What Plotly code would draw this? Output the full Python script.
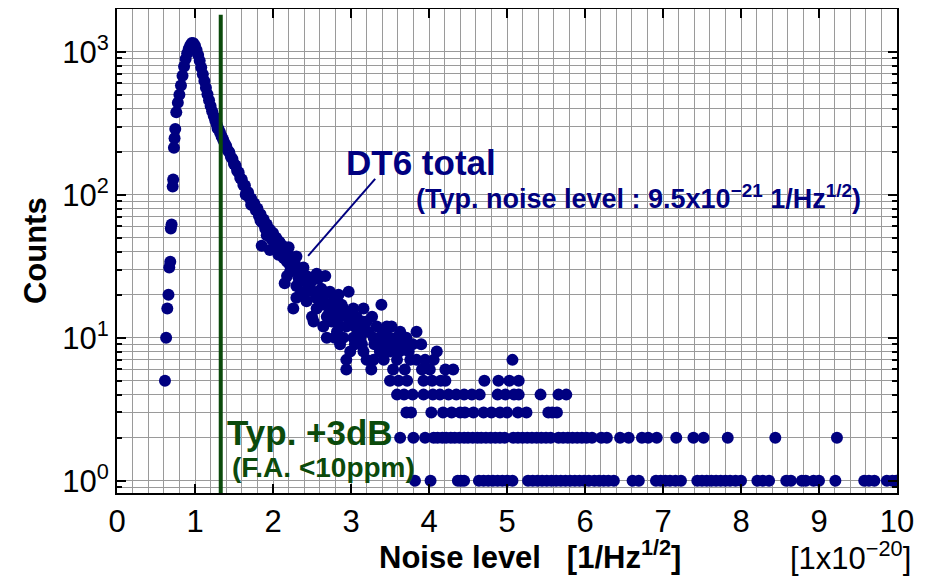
import plotly.graph_objects as go

# --------------------------
# Data (noise level in 1e-20 /sqrt(Hz), counts per bin)
# --------------------------

# isolated dots on the rising edge
rise_x = [0.615, 0.63, 0.645, 0.66, 0.67, 0.683, 0.69, 0.70, 0.714, 0.72, 0.73, 0.738, 0.747, 0.76]
rise_counts = [5, 10, 16, 20, 31, 34, 58, 62, 114, 128, 213, 248, 288, 377]

# dense part of the distribution, bins of 0.02 starting at 0.78
dense_start = 0.78
dense_step = 0.02
dense_counts = [
    440, 500, 580, 680, 790, 890, 975, 1050, 1110, 1150,
    1145, 1100, 1030, 950, 865, 775, 695, 625, 560, 505,
    458, 418, 384, 356, 331, 309, 290, 274, 256, 243,
    229, 219, 205, 198, 184, 178, 164, 160, 147, 143,
    131, 128, 117, 116, 105, 104, 95, 94, 86, 87,
    78, 80, 71, 73, 64, 67, 58, 62, 53, 57,
    49, 54, 45, 50, 42, 47, 39, 44, 36, 41,
    34, 38, 32, 36, 30, 33, 29,
]

# scattered region of the tail (counts >= 6)
mid_x = [
    1.29, 1.855, 1.96, 2.09, 2.20, 2.13, 2.30, 2.39, 2.43, 2.47, 2.56, 2.67, 2.58,
    2.15, 2.30, 2.73, 2.97, 2.84, 2.30, 2.43, 2.60, 2.82, 2.26, 2.56, 2.75,
    2.90, 3.03, 3.16, 3.39, 2.50, 2.69, 2.86, 3.07, 3.27, 2.52, 2.645, 2.82,
    2.94, 3.09, 3.33, 3.46, 3.52, 3.63, 3.84, 2.69, 2.79, 2.90, 3.03, 3.12,
    3.29, 3.37, 3.50, 3.65, 3.71, 3.44, 3.56, 3.79, 3.90, 2.99, 3.14, 3.37,
    3.50, 4.10, 2.94, 3.20, 3.29, 3.42, 3.59, 3.76, 3.84, 3.95, 4.06, 5.07,
    2.94, 3.26, 3.54, 3.69, 3.91, 4.01, 4.21, 4.31,
    2.35, 2.40, 2.50, 2.52, 2.62, 2.36, 2.55, 2.65, 2.70, 2.78, 2.88, 2.95,
    3.00, 3.10, 3.18, 2.75, 2.85, 3.20,
    2.33, 2.45, 2.62, 2.72, 2.80, 2.98, 3.05, 3.14, 3.22, 3.30, 3.41, 3.48,
    3.58, 3.62, 3.68, 3.74, 3.05, 3.16, 2.86, 2.40, 2.22, 2.18,
    1.65, 1.72, 1.84, 1.92, 2.02, 2.07,
]
mid_counts = [
    290, 44, 41, 46, 43, 37, 37, 31, 27, 23, 28, 27, 26,
    24, 23, 21, 21, 20, 19, 18, 18, 18, 16, 16, 16,
    16, 16, 16, 17, 14, 14, 14, 14, 14, 13, 12, 11,
    12, 11, 12, 12, 12, 11, 11, 10, 10, 10, 10, 10,
    10, 10, 10, 10, 10, 9, 9, 9, 9, 8, 9, 8,
    8, 8, 7, 7, 7, 7, 7, 7, 7, 7, 7, 7,
    6, 6, 6, 6, 6, 6, 6, 6,
    28, 25, 25, 21, 22, 21, 19, 20, 17, 19, 17, 15,
    13, 12, 11, 13, 12, 13,
    26, 22, 17, 15, 15, 13, 12, 13, 11, 9, 11, 10,
    10, 8, 9, 8, 9, 8, 9, 20, 29, 27,
    100, 85, 66, 52, 43, 38,
]

# low-count rows of the tail
row5_x = [3.50, 3.61, 3.72, 3.93, 4.04, 4.15, 4.21, 4.71, 4.89, 5.03, 5.15]
row4_x = [3.59, 3.68, 3.79, 3.93, 4.05, 4.14, 4.25, 4.35, 4.45, 4.55, 4.65,
          4.88, 4.98, 5.09, 5.15, 5.43, 5.66, 5.76]
row3_x = [3.71, 3.77, 4.03, 4.18, 4.29, 4.40, 4.46, 4.57, 4.70, 4.80, 4.91,
          5.00, 5.14, 5.25, 5.53, 5.58, 5.64]
row2_x = [3.63, 3.80, 3.95, 4.06, 4.11, 4.17, 4.22, 4.28, 4.33, 4.39, 4.45,
          4.50, 4.56, 4.62, 4.67, 4.73, 4.79, 4.85, 4.91, 4.97, 5.08, 5.14,
          5.20, 5.26, 5.32, 5.38, 5.44, 5.50, 5.56, 5.66, 5.72, 5.78, 5.84,
          5.90, 5.96, 6.02, 6.09, 6.21, 6.28, 6.45, 6.56, 6.73, 6.81, 6.92,
          7.17, 7.39, 7.52, 7.83, 8.44, 9.23]
row1_x = [3.82, 4.02, 4.37, 4.41, 4.45, 4.64, 4.70, 4.76, 4.82, 4.88, 4.94,
          5.00, 5.07, 5.27, 5.33, 5.39, 5.45, 5.51, 5.57, 5.63, 5.69, 5.75,
          5.81, 5.87, 5.93, 5.99, 6.05, 6.12, 6.18, 6.24, 6.30, 6.37, 6.61,
          6.69, 6.91, 6.97, 7.03, 7.09, 7.16, 7.23, 7.44, 7.50, 7.56, 7.62,
          7.68, 7.74, 7.80, 7.86, 7.93, 8.00, 8.21, 8.28, 8.36, 8.58, 8.64,
          8.78, 8.83, 8.93, 9.00, 9.21, 9.58, 9.64, 9.71, 9.87, 9.94, 9.99]

typ_3db_x = 1.33

# --------------------------
# Assemble points
# --------------------------
dense_x = [round(dense_start + i * dense_step, 3) for i in range(len(dense_counts))]

xs = rise_x + dense_x + mid_x
ys = rise_counts + dense_counts + mid_counts
for n, row in [(5, row5_x), (4, row4_x), (3, row3_x), (2, row2_x), (1, row1_x)]:
    xs += row
    ys += [n] * len(row)

NAVY = "#000080"
GREEN = "#0b4a0b"
FONT = "Liberation Sans, Arial, sans-serif"

fig = go.Figure()
fig.add_trace(go.Scatter(
    x=xs, y=ys, mode="markers",
    marker=dict(size=12, color=NAVY, line=dict(width=0)),
    showlegend=False,
))

grid = "#9a9a9a"
minor_y = [0.9] + [k * 10 ** e for e in range(3) for k in range(2, 10)]

fig.update_xaxes(
    range=[0, 10], tick0=0, dtick=1,
    ticks="inside", ticklen=9, tickwidth=2, tickcolor="black",
    showline=True, linewidth=2, linecolor="black", mirror="ticks",
    showgrid=True, gridcolor=grid, gridwidth=1.4,
    minor=dict(dtick=0.2, showgrid=True, gridcolor=grid, gridwidth=1.4, ticks=""),
    tickfont=dict(family=FONT, size=31, color="black"),
    zeroline=False, automargin=False,
)
fig.update_yaxes(
    type="log", range=[-0.086, 3.299],
    tickmode="array", tickvals=[1, 10, 100, 1000],
    ticktext=["10<sup>0</sup>", "10<sup>1</sup>", "10<sup>2</sup>", "10<sup>3</sup>"],
    ticks="inside", ticklen=9, tickwidth=2, tickcolor="black",
    showline=True, linewidth=2, linecolor="black", mirror="ticks",
    showgrid=True, gridcolor=grid, gridwidth=1.4,
    minor=dict(tickmode="array", tickvals=minor_y, ticks="inside", ticklen=5,
               tickwidth=1.5, tickcolor="black",
               showgrid=True, gridcolor=grid, gridwidth=1.4),
    tickfont=dict(family=FONT, size=31, color="black"),
    zeroline=False, automargin=False,
)

# Typ. +3dB threshold line
fig.add_shape(type="line", xref="x", yref="paper", x0=typ_3db_x, x1=typ_3db_x,
              y0=0, y1=0.988, line=dict(color=GREEN, width=4))
# pointer from label to curve
fig.add_shape(type="line", xref="x", yref="paper", x0=3.31, y0=0.649, x1=2.45, y1=0.49,
              line=dict(color=NAVY, width=2))

def label(text, x, y, size, color, xref="x", bold=True, **kw):
    fig.add_annotation(text=f"<b>{text}</b>" if bold else text, x=x, y=y,
                       xref=xref, yref="paper", showarrow=False,
                       xanchor="center", yanchor="middle",
                       font=dict(family=FONT, size=size, color=color), **kw)

label("DT6 total", 3.90, 0.682, 35, NAVY)
label("(Typ. noise level : 9.5x10<sup>−21</sup> 1/Hz<sup>1/2</sup>)", 6.68, 0.612, 27, NAVY)
label("Typ. +3dB", 2.47, 0.124, 35, GREEN)
label("(F.A. &lt;10ppm)", 2.65, 0.052, 28, GREEN)
label("Noise level   [1/Hz<sup>1/2</sup>]", 5.3, -0.128, 31, "black")
label("[1x10<sup>−20</sup>]", 9.4, -0.13, 31, "black", bold=False)
label("Counts", -0.105, 0.5, 31, "black", xref="paper", textangle=-90)

# the page adds an 8px body margin, so the figure is 8px smaller than the window
fig.update_layout(
    width=920, height=570,
    margin=dict(l=109, r=31, t=1, b=85),
    plot_bgcolor="white", paper_bgcolor="white",
    font=dict(family=FONT),
)

fig.write_html("out.html")
